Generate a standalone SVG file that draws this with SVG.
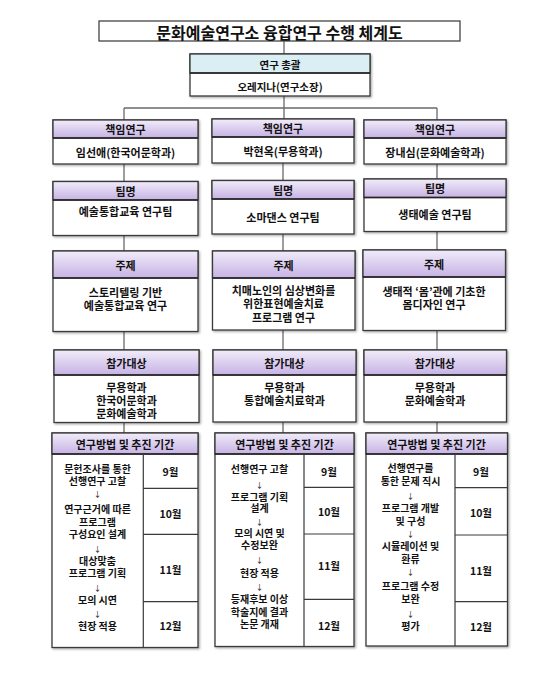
<svg xmlns="http://www.w3.org/2000/svg" width="548" height="684" viewBox="0 0 548 684">
<defs>
<linearGradient id="hdr" x1="0" y1="0" x2="0" y2="1">
<stop offset="0" stop-color="#f1ecfa"/>
<stop offset="1" stop-color="#c6b2e4"/>
</linearGradient>
<filter id="sh" x="-5%" y="-5%" width="115%" height="115%">
<feDropShadow dx="1.2" dy="1.2" stdDeviation="0.8" flood-color="#000" flood-opacity="0.35"/>
</filter>
</defs>
<style>
text{font-family:"Noto Sans CJK KR","Liberation Sans",sans-serif;font-weight:bold;fill:#111;text-anchor:middle;dominant-baseline:central}
.t{font-size:11px}
.m{font-size:10px}
.s{font-size:10.5px}
.a{font-size:7.5px;font-weight:normal}
.box{fill:#fff;stroke:#3a3a3a;stroke-width:1.3}
.hd{fill:url(#hdr);stroke:#3a3a3a;stroke-width:1.3}
.hl{stroke:#222;stroke-width:1.6}
.ln{stroke:#3a3a3a;stroke-width:1.2;fill:none}
.c{stroke:#6a6a6a;stroke-width:1.3;fill:none}
</style>
<rect width="548" height="684" fill="#fff"/>

<g id="connectors">
<path class="c" d="M284 41V54M284 96V108M124 108H437M124 108V120M284 108V119M437 108V120"/>
<path class="c" d="M124 164V181.5M124 235.5V251M124 331.5V350M124 422.5V433"/>
<path class="c" d="M283 163V180.5M283 234V251M283 330V350M283 422V433"/>
<path class="c" d="M437 164V179M437 231.5V250M437 330.5V350M437 422V433"/>
</g>

<g id="title">
<rect x="99" y="21" width="361" height="20" fill="#fff" stroke="#444" stroke-width="1.3"/>
<text x="279.5" y="31.5" style="font-size:16px">문화예술연구소 융합연구 수행 체계도</text>
</g>

<g id="general">
<rect x="190" y="54" width="180" height="42" class="box" filter="url(#sh)"/>
<rect x="190" y="54" width="180" height="19" fill="#daeef3" stroke="#3a3a3a" stroke-width="1.3"/>
<line x1="190" y1="73" x2="370" y2="73" class="hl"/>
<text class="s" x="280" y="64">연구 총괄</text>
<text class="s" x="280" y="86">오레지나(연구소장)</text>
</g>

<!-- Column 1 -->
<g id="lead1">
<rect x="53" y="120" width="145" height="44" class="box" filter="url(#sh)"/>
<rect x="53" y="120" width="145" height="18" class="hd"/>
<line x1="53" y1="138" x2="198" y2="138" class="hl"/>
<text class="t" x="125.5" y="128.5">책임연구</text>
<text class="t" x="125.5" y="151.5">임선애(한국어문학과)</text>
</g>
<g id="team1">
<rect x="53" y="181.5" width="145" height="54" class="box" filter="url(#sh)"/>
<rect x="53" y="181.5" width="145" height="18.5" class="hd"/>
<line x1="53" y1="200" x2="198" y2="200" class="hl"/>
<text class="t" x="125.5" y="190.5">팀명</text>
<text class="t" x="125.5" y="210.5">예술통합교육 연구팀</text>
</g>
<g id="topic1">
<rect x="53" y="251" width="145" height="80.5" class="box" filter="url(#sh)"/>
<rect x="53" y="251" width="145" height="27" class="hd"/>
<line x1="53" y1="278" x2="198" y2="278" class="hl"/>
<text class="t" x="125.5" y="265">주제</text>
<text class="t" x="125.5" y="291.5">스토리텔링 기반<tspan x="125.5" dy="13">예술통합교육 연구</tspan></text>
</g>
<g id="target1">
<rect x="54" y="350" width="145" height="72.5" class="box" filter="url(#sh)"/>
<rect x="54" y="350" width="145" height="25" class="hd"/>
<line x1="54" y1="375" x2="199" y2="375" class="hl"/>
<text class="t" x="126.5" y="363">참가대상</text>
<text class="t" x="126.5" y="386.5">무용학과<tspan x="126.5" dy="13">한국어문학과</tspan><tspan x="126.5" dy="13">문화예술학과</tspan></text>
</g>
<g id="method1">
<rect x="52" y="433" width="146" height="214.5" class="box" filter="url(#sh)"/>
<rect x="52" y="433" width="146" height="21" class="hd"/>
<line x1="52" y1="454" x2="198" y2="454" class="hl"/>
<path class="ln" d="M143.3 454V647.5M143.3 488.3H198M143.3 534.3H198M143.3 601.7H198"/>
<text class="t" x="125" y="443.5">연구방법 및 추진 기간</text>
<text class="m" x="97.5" y="468">문헌조사를 통한<tspan x="97.5" dy="12.3">선행연구 고찰</tspan><tspan class="a" x="97.5" dy="12.7">↓</tspan><tspan x="97.5" dy="14.7">연구근거에 따른</tspan><tspan x="97.5" dy="12.8">프로그램</tspan><tspan x="97.5" dy="12.8">구성요인 설계</tspan><tspan class="a" x="97.5" dy="14.7">↓</tspan><tspan x="97.5" dy="12">대상맞춤</tspan><tspan x="97.5" dy="12">프로그램 기획</tspan><tspan class="a" x="97.5" dy="14.7">↓</tspan><tspan x="97.5" dy="11.8">모의 시연</tspan><tspan class="a" x="97.5" dy="14.8">↓</tspan><tspan x="97.5" dy="11.7">현장 적용</tspan></text>
<text class="s" x="170.5" y="471.7">9월</text>
<text class="s" x="170.5" y="513.3">10월</text>
<text class="s" x="170.5" y="569">11월</text>
<text class="s" x="170.5" y="625">12월</text>
</g>

<!-- Column 2 -->
<g id="lead2">
<rect x="212" y="119" width="142" height="44" class="box" filter="url(#sh)"/>
<rect x="212" y="119" width="142" height="18" class="hd"/>
<line x1="212" y1="137" x2="354" y2="137" class="hl"/>
<text class="t" x="283" y="127.5">책임연구</text>
<text class="t" x="283" y="150.5">박현옥(무용학과)</text>
</g>
<g id="team2">
<rect x="212" y="180.5" width="142" height="53.5" class="box" filter="url(#sh)"/>
<rect x="212" y="180.5" width="142" height="18.5" class="hd"/>
<line x1="212" y1="199" x2="354" y2="199" class="hl"/>
<text class="t" x="283" y="189.5">팀명</text>
<text class="t" x="283" y="216.5">소마댄스 연구팀</text>
</g>
<g id="topic2">
<rect x="212.5" y="251" width="142.5" height="79" class="box" filter="url(#sh)"/>
<rect x="212.5" y="251" width="142.5" height="27" class="hd"/>
<line x1="212.5" y1="278" x2="355" y2="278" class="hl"/>
<text class="t" x="283.5" y="265">주제</text>
<text class="t" x="283.5" y="290">치매노인의 심상변화를<tspan x="283.5" dy="13.3">위한표현예술치료</tspan><tspan x="283.5" dy="13.4">프로그램 연구</tspan></text>
</g>
<g id="target2">
<rect x="213" y="350" width="143" height="72" class="box" filter="url(#sh)"/>
<rect x="213" y="350" width="143" height="25" class="hd"/>
<line x1="213" y1="375" x2="356" y2="375" class="hl"/>
<text class="t" x="284.5" y="363">참가대상</text>
<text class="t" x="284.5" y="386.5">무용학과<tspan x="284.5" dy="13">통합예술치료학과</tspan></text>
</g>
<g id="method2">
<rect x="215" y="433" width="139" height="213.5" class="box" filter="url(#sh)"/>
<rect x="215" y="433" width="139" height="21" class="hd"/>
<line x1="215" y1="454" x2="354" y2="454" class="hl"/>
<path class="ln" d="M304 454V646.5M304 487.3H354M304 534H354M304 599.3H354"/>
<text class="t" x="284.5" y="443.5">연구방법 및 추진 기간</text>
<text class="m" x="259.5" y="468.3">선행연구 고찰<tspan class="a" x="259.5" dy="15.7">↓</tspan><tspan x="259.5" dy="11.5">프로그램 기획</tspan><tspan x="259.5" dy="11.5">설계</tspan><tspan class="a" x="259.5" dy="14">↓</tspan><tspan x="259.5" dy="11">모의 시연 및</tspan><tspan x="259.5" dy="12">수정보완</tspan><tspan class="a" x="259.5" dy="14.5">↓</tspan><tspan x="259.5" dy="13">현장 적용</tspan><tspan class="a" x="259.5" dy="14.5">↓</tspan><tspan x="259.5" dy="12.3">등재후보 이상</tspan><tspan x="259.5" dy="12.2">학술지에 결과</tspan><tspan x="259.5" dy="12.5">논문 개재</tspan></text>
<text class="s" x="329" y="471.7">9월</text>
<text class="s" x="329" y="511.7">10월</text>
<text class="s" x="329" y="565.7">11월</text>
<text class="s" x="329" y="625">12월</text>
</g>

<!-- Column 3 -->
<g id="lead3">
<rect x="364" y="120" width="142" height="44" class="box" filter="url(#sh)"/>
<rect x="364" y="120" width="142" height="18" class="hd"/>
<line x1="364" y1="138" x2="506" y2="138" class="hl"/>
<text class="t" x="435" y="128.5">책임연구</text>
<text class="t" x="435" y="151.5">장내심(문화예술학과)</text>
</g>
<g id="team3">
<rect x="364" y="179" width="142" height="52.5" class="box" filter="url(#sh)"/>
<rect x="364" y="179" width="142" height="18.5" class="hd"/>
<line x1="364" y1="197.5" x2="506" y2="197.5" class="hl"/>
<text class="t" x="435" y="188">팀명</text>
<text class="t" x="435" y="214">생태예술 연구팀</text>
</g>
<g id="topic3">
<rect x="363" y="250" width="142.5" height="80.5" class="box" filter="url(#sh)"/>
<rect x="363" y="250" width="142.5" height="27" class="hd"/>
<line x1="363" y1="277" x2="505.5" y2="277" class="hl"/>
<text class="t" x="434" y="264">주제</text>
<text class="t" x="434" y="290.7">생태적 ‘몸’관에 기초한<tspan x="434" dy="13.3">몸디자인 연구</tspan></text>
</g>
<g id="target3">
<rect x="364" y="350" width="142.5" height="72" class="box" filter="url(#sh)"/>
<rect x="364" y="350" width="142.5" height="25" class="hd"/>
<line x1="364" y1="375" x2="506.5" y2="375" class="hl"/>
<text class="t" x="435" y="363">참가대상</text>
<text class="t" x="435" y="386.5">무용학과<tspan x="435" dy="13">문화예술학과</tspan></text>
</g>
<g id="method3">
<rect x="366" y="433" width="141.5" height="213" class="box" filter="url(#sh)"/>
<rect x="366" y="433" width="141.5" height="21" class="hd"/>
<line x1="366" y1="454" x2="507.5" y2="454" class="hl"/>
<path class="ln" d="M455 454V646M455 487.7H507.5M455 535H507.5M455 601.7H507.5"/>
<text class="t" x="436.5" y="443.5">연구방법 및 추진 기간</text>
<text class="m" x="410.5" y="467.7">선행연구를<tspan x="410.5" dy="12.3">통한 문제 직시</tspan><tspan class="a" x="410.5" dy="14.5">↓</tspan><tspan x="410.5" dy="12.5">프로그램 개발</tspan><tspan x="410.5" dy="12.5">및 구성</tspan><tspan class="a" x="410.5" dy="13">↓</tspan><tspan x="410.5" dy="12">시뮬레이션 및</tspan><tspan x="410.5" dy="13">환류</tspan><tspan class="a" x="410.5" dy="13.5">↓</tspan><tspan x="410.5" dy="14">프로그램 수정</tspan><tspan x="410.5" dy="13.3">보완</tspan><tspan class="a" x="410.5" dy="14.5">↓</tspan><tspan x="410.5" dy="12.2">평가</tspan></text>
<text class="s" x="481" y="471">9월</text>
<text class="s" x="481" y="512.3">10월</text>
<text class="s" x="481" y="570">11월</text>
<text class="s" x="481" y="626.5">12월</text>
</g>
</svg>
